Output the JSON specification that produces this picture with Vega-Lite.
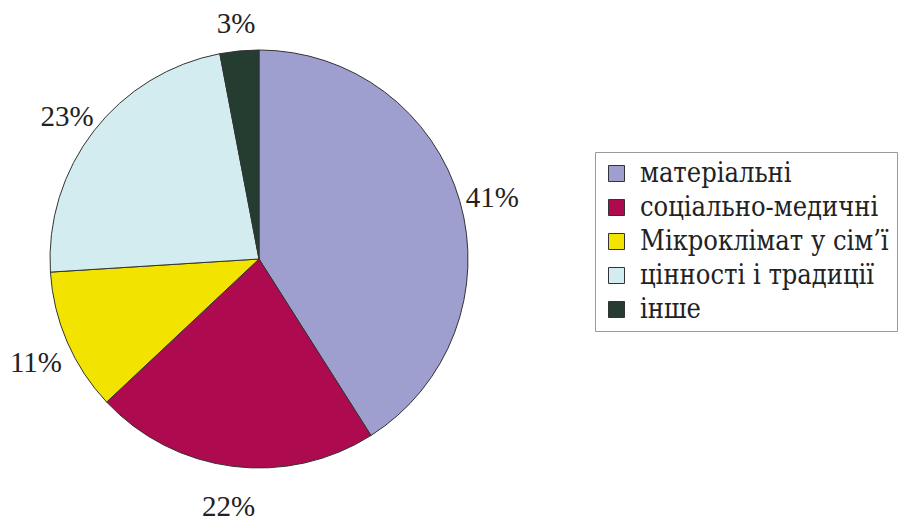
{
  "$schema": "https://vega.github.io/schema/vega-lite/v6.json",
  "width": 518,
  "height": 518,
  "padding": 0,
  "background": "white",
  "config": {"view": {"stroke": null}, "font": "serif"},
  "data": {"values": [
    {"cat": "матеріальні", "pct": 41, "label": "41%"},
    {"cat": "соціально-медичні", "pct": 22, "label": "22%"},
    {"cat": "Мікроклімат у сім’ї", "pct": 11, "label": "11%"},
    {"cat": "цінності і традиції", "pct": 23, "label": "23%"},
    {"cat": "інше", "pct": 3, "label": "3%"}
  ]},
  "encoding": {
    "theta": {"field": "pct", "type": "quantitative", "stack": true},
    "order": {"field": "idx", "type": "quantitative"}
  },
  "transform": [{"window": [{"op": "row_number", "as": "idx"}]}],
  "layer": [
    {
      "mark": {"type": "arc", "outerRadius": 209, "stroke": "#333333", "strokeWidth": 1},
      "encoding": {
        "color": {
          "field": "cat", "type": "nominal",
          "sort": ["матеріальні", "соціально-медичні", "Мікроклімат у сім’ї", "цінності і традиції", "інше"],
          "scale": {
            "domain": ["матеріальні", "соціально-медичні", "Мікроклімат у сім’ї", "цінності і традиції", "інше"],
            "range": ["#9e9ecf", "#ad0a4f", "#f2e400", "#d3ecf0", "#243d30"]
          },
          "legend": {
            "title": null,
            "orient": "none",
            "legendX": 595,
            "legendY": 152,
            "strokeColor": "#9a9a9a",
            "padding": 8,
            "symbolType": "square",
            "symbolSize": 256,
            "symbolStrokeColor": "#333333",
            "symbolStrokeWidth": 1,
            "labelFont": "DejaVu Serif Condensed",
            "labelFontSize": 27,
            "labelColor": "#222222",
            "labelLimit": 400,
            "rowPadding": 6,
            "labelOffset": 10
          }
        }
      }
    },
    {
      "mark": {"type": "text", "radius": 243, "dy": 7, "fontSize": 29, "font": "serif", "color": "#222222"},
      "encoding": {"text": {"field": "label"}}
    }
  ]
}
